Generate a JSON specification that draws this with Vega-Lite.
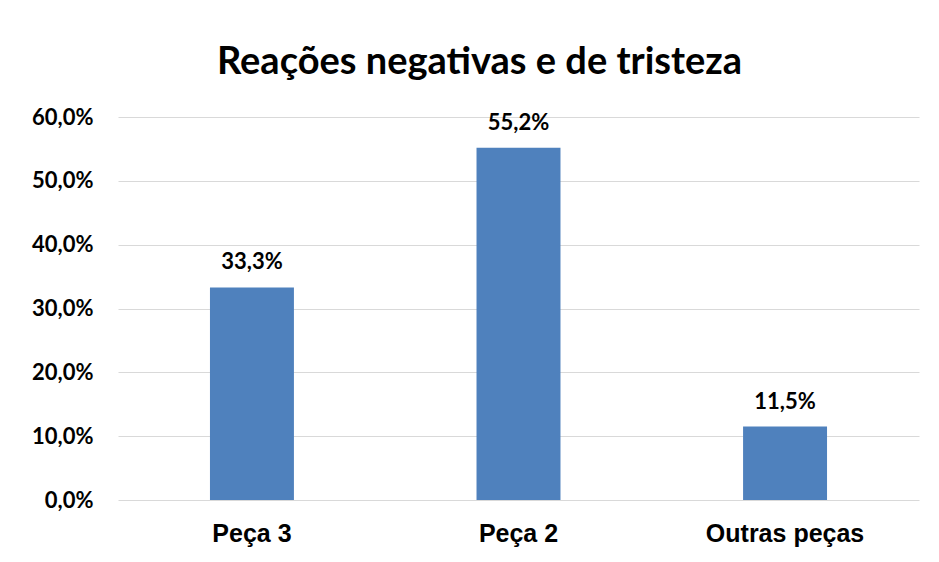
{
  "$schema": "https://vega.github.io/schema/vega-lite/v6.json",
  "width": 801,
  "height": 383,
  "autosize": "none",
  "padding": {"left": 118, "top": 117, "right": 20, "bottom": 62},
  "background": "white",
  "config": {
    "locale": {"number": {"decimal": ",", "thousands": ".", "grouping": [3], "currency": ["", ""]}},
    "view": {"stroke": null}
  },
  "title": {
    "text": "Reações negativas e de tristeza",
    "font": "Lato",
    "fontSize": 38,
    "fontWeight": "bold",
    "color": "#000000",
    "anchor": "middle",
    "dx": -39,
    "offset": -6,
    "baseline": "alphabetic"
  },
  "data": {
    "values": [
      {"peca": "Peça 3", "valor": 0.333},
      {"peca": "Peça 2", "valor": 0.552},
      {"peca": "Outras peças", "valor": 0.115}
    ]
  },
  "encoding": {
    "x": {
      "field": "peca",
      "type": "nominal",
      "sort": null,
      "scale": {"paddingInner": 0.685, "paddingOuter": 0.345},
      "axis": {
        "title": null,
        "labelAngle": 0,
        "labelFont": "Liberation Sans",
        "labelFontSize": 25,
        "labelFontWeight": "bold",
        "labelColor": "#000000",
        "labelPadding": 21,
        "ticks": false,
        "domain": false
      }
    },
    "y": {
      "field": "valor",
      "type": "quantitative",
      "scale": {"domain": [0, 0.6]},
      "axis": {
        "title": null,
        "values": [0, 0.1, 0.2, 0.3, 0.4, 0.5, 0.6],
        "format": ".1%",
        "labelFont": "Lato",
        "labelFontSize": 22,
        "labelFontWeight": "bold",
        "labelColor": "#000000",
        "labelPadding": 25,
        "ticks": false,
        "domain": false,
        "gridColor": "#d9d9d9",
        "gridWidth": 1
      }
    }
  },
  "layer": [
    {"mark": {"type": "bar", "color": "#4f81bd"}},
    {
      "mark": {"type": "text", "dy": -18, "font": "Lato", "fontSize": 22, "fontWeight": "bold", "color": "#000000", "baseline": "alphabetic"},
      "encoding": {"text": {"field": "valor", "type": "quantitative", "format": ".1%"}}
    }
  ]
}
